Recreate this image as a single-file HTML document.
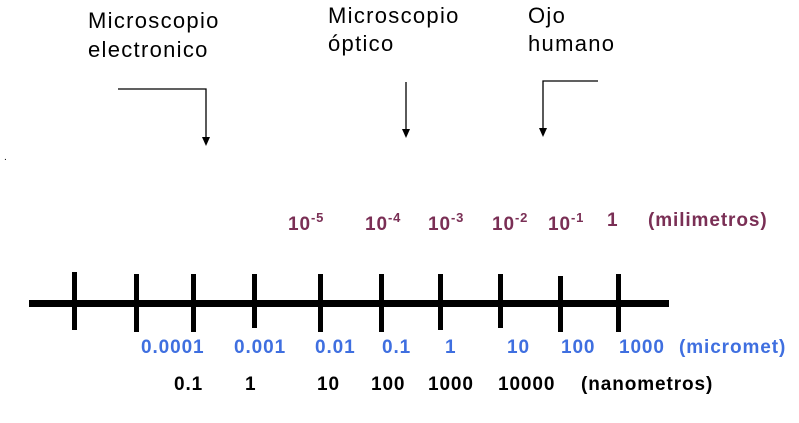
<!DOCTYPE html>
<html><head><meta charset="utf-8"><style>
html,body{margin:0;padding:0;background:#fff;}
body{width:799px;height:423px;position:relative;overflow:hidden;font-family:"Liberation Sans",sans-serif;}
.t{position:absolute;white-space:nowrap;}
.top{font-size:22px;color:#000;line-height:26px;letter-spacing:1.3px;}
.p{color:#7a2f55;font-weight:bold;font-size:19px;letter-spacing:0.9px;}
.b{color:#3f6fe0;font-weight:bold;font-size:19px;letter-spacing:0.9px;}
.k{color:#000;font-weight:bold;font-size:19px;letter-spacing:0.9px;}
sup{font-size:13px;vertical-align:8px;}
</style></head><body>
<div class="t top" style="left:88px;top:8px;">Microscopio</div>
<div class="t top" style="left:88px;top:37px;">electronico</div>
<div class="t top" style="left:328px;top:3px;">Microscopio</div>
<div class="t top" style="left:328px;top:31px;">óptico</div>
<div class="t top" style="left:528px;top:3px;">Ojo</div>
<div class="t top" style="left:528px;top:31px;">humano</div>
<svg width="799" height="423" style="position:absolute;left:0;top:0">
<g stroke="#000" stroke-width="1.3" fill="none">
<polyline points="118,89 206,89 206,138"/>
<line x1="406" y1="82" x2="406" y2="131"/>
<polyline points="598,81 543,81 543,130"/>
</g>
<g fill="#000">
<polygon points="202,137 210,137 206,146"/>
<polygon points="402,129 410,129 406,138"/>
<polygon points="539,128 547,128 543,137"/>
<rect x="29" y="300" width="640" height="7"/>
<rect x="72" y="272" width="5" height="58"/>
<rect x="134" y="274" width="5" height="58"/>
<rect x="191" y="274" width="5" height="58"/>
<rect x="252" y="274" width="5" height="54"/>
<rect x="318" y="274" width="5" height="58"/>
<rect x="379" y="274" width="5" height="58"/>
<rect x="438" y="274" width="5" height="56"/>
<rect x="498" y="274" width="5" height="54"/>
<rect x="558" y="276" width="5" height="56"/>
<rect x="616" y="274" width="5" height="58"/>
</g>
</svg>
<div class="t p" style="left:288px;top:210px;">10<sup>-5</sup></div>
<div class="t p" style="left:365px;top:210px;">10<sup>-4</sup></div>
<div class="t p" style="left:428px;top:210px;">10<sup>-3</sup></div>
<div class="t p" style="left:492px;top:210px;">10<sup>-2</sup></div>
<div class="t p" style="left:548px;top:210px;">10<sup>-1</sup></div>
<div class="t p" style="left:607px;top:210px;">1</div>
<div class="t p" style="left:648px;top:210px;">(milimetros)</div>
<div class="t b" style="left:141px;top:337px;">0.0001</div>
<div class="t b" style="left:234px;top:337px;">0.001</div>
<div class="t b" style="left:315px;top:337px;">0.01</div>
<div class="t b" style="left:382px;top:337px;">0.1</div>
<div class="t b" style="left:445px;top:337px;">1</div>
<div class="t b" style="left:507px;top:337px;">10</div>
<div class="t b" style="left:561px;top:337px;">100</div>
<div class="t b" style="left:619px;top:337px;">1000</div>
<div class="t b" style="left:679px;top:337px;">(micromet)</div>
<div class="t k" style="left:174px;top:374px;">0.1</div>
<div class="t k" style="left:245px;top:374px;">1</div>
<div class="t k" style="left:317px;top:374px;">10</div>
<div class="t k" style="left:371px;top:374px;">100</div>
<div class="t k" style="left:428px;top:374px;">1000</div>
<div class="t k" style="left:498px;top:374px;">10000</div>
<div class="t k" style="left:581px;top:374px;">(nanometros)</div>
<div class="t" style="left:4px;top:152px;font-size:10px;">.</div>
</body></html>
